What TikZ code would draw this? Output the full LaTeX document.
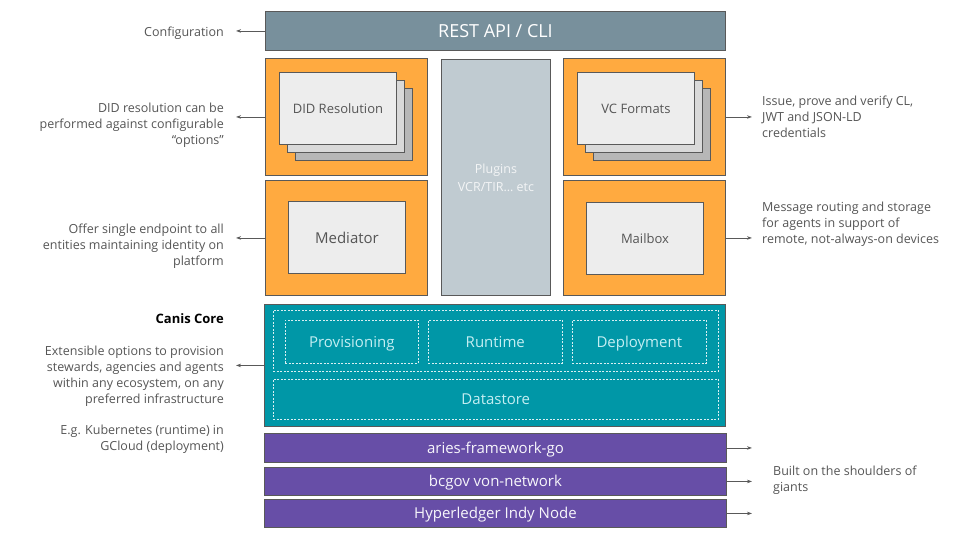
\documentclass[tikz,border=0pt]{standalone}
\usepackage{fontspec}
\setmainfont{Open Sans}
\usetikzlibrary{arrows.meta, positioning, calc}
\definecolor{restgrey}{HTML}{78909C}
\definecolor{pluginblue}{HTML}{C0CBD1}
\definecolor{boxorange}{HTML}{FFAA40}
\definecolor{coreteal}{HTML}{0097A7}
\definecolor{tealtext}{HTML}{C4EEF2}
\definecolor{basepurple}{HTML}{674EA7}
\definecolor{edgegrey}{HTML}{595959}
\definecolor{textgrey}{HTML}{555555}
\definecolor{cardA}{HTML}{EDEDED}
\definecolor{cardB}{HTML}{D9D9D9}
\definecolor{cardC}{HTML}{B7B7B7}

\begin{document}
\begin{tikzpicture}[
    x=1pt, y=-1pt,
    layer/.style={rectangle, draw=edgegrey, line width=0.9pt, inner sep=0pt, anchor=north west},
    card/.style={layer, minimum width=117pt, minimum height=72pt, text=textgrey, font=\fontsize{13}{16}\selectfont},
    part/.style={rectangle, draw=white!85!coreteal, dashed, dash pattern=on 2pt off 1.5pt, line width=0.6pt,
        inner sep=0pt, anchor=north west, text=tealtext, text height=12.5pt, text depth=2pt,
        font=\fontsize{15}{18}\selectfont},
    base/.style={layer, fill=basepurple, minimum width=462pt, text=white!95!basepurple,
        text height=12.5pt, text depth=2pt, font=\fontsize{15}{18}\selectfont},
    note/.style={inner sep=0pt, text=textgrey, font=\fontsize{12.5}{16}\selectfont},
    arrow/.style={-{Stealth[length=5pt, width=3.5pt]}, draw=edgegrey, line width=0.8pt}
]
\useasboundingbox (0,0) rectangle (960,540);

% === Top layer ===
\node[layer, fill=restgrey, minimum width=460pt, minimum height=39pt, text=white,
      font=\fontsize{18}{22}\selectfont] (rest) at (265,11) {REST API / CLI};

% DID resolution
\node[layer, fill=boxorange, minimum width=162pt, minimum height=117pt] (didbox) at (265,58) {};
\node[card, fill=cardC] (did3) at (295,88) {};
\node[card, fill=cardB] (did2) at (287,80) {};
\node[card, fill=cardA] (did1) at (279,72) {DID Resolution};

% Plugins
\node[layer, fill=pluginblue, minimum width=109pt, minimum height=236pt, align=center,
      text=white!80!pluginblue, font=\fontsize{12.5}{18}\selectfont] (plugins) at (441,59) {Plugins\\VCR/TIR… etc};

% VC formats
\node[layer, fill=boxorange, minimum width=162pt, minimum height=117pt] (vcbox) at (563,58) {};
\node[card, fill=cardC] (vc3) at (593,88) {};
\node[card, fill=cardB] (vc2) at (585,80) {};
\node[card, fill=cardA] (vc1) at (577,72) {VC Formats};

% Mediator and mailbox
\node[layer, fill=boxorange, minimum width=162pt, minimum height=115pt] (medbox) at (265,180) {};
\node[card, fill=cardA, font=\fontsize{15}{18}\selectfont] (mediator) at (288,201) {Mediator};
\node[layer, fill=boxorange, minimum width=162pt, minimum height=115pt] (mailbox) at (563,180) {};
\node[card, fill=cardA] (mail) at (586,202) {Mailbox};

% === Canis Core ===
\node[layer, fill=coreteal, minimum width=461pt, minimum height=122pt] (core) at (264,304) {};
\node[part, minimum width=445pt, minimum height=61pt] (services) at (273,310) {};
\node[part, minimum width=133pt, minimum height=43pt] (prov) at (285,320) {Provisioning};
\node[part, minimum width=134pt, minimum height=43pt] (runtime) at (428,320) {Runtime};
\node[part, minimum width=134pt, minimum height=43pt] (deploy) at (572,320) {Deployment};
\node[part, minimum width=445pt, minimum height=40pt] (datastore) at (273,379) {Datastore};

% === Foundations ===
\node[base, minimum height=29pt] (aries) at (264,433) {aries-framework-go};
\node[base, minimum height=28pt] (vonnet) at (264,467) {bcgov von-network};
\node[base, minimum height=28pt] (indy) at (264,499) {Hyperledger Indy Node};

% === Notes on the left ===
\node[note, anchor=east] (confnote) at (224,33) {Configuration};
\node[note, anchor=east, align=right] (didnote) at (224,125) {DID resolution can be\\performed against configurable\\“options”};
\node[note, anchor=east, align=right] (mednote) at (224,246) {Offer single endpoint to all\\entities maintaining identity on\\platform};
\node[note, anchor=east, text=black, font=\fontsize{13}{16}\selectfont\bfseries] (corehead) at (224,319) {Canis Core};
\node[note, anchor=east, align=right] (corenote) at (224,376) {Extensible options to provision\\stewards, agencies and agents\\within any ecosystem, on any\\preferred infrastructure};
\node[note, anchor=east, align=right] (k8snote) at (224,439) {E.g. Kubernetes (runtime) in\\GCloud (deployment)};

% === Notes on the right ===
\node[note, anchor=west, align=left] (vcnote) at (762,117) {Issue, prove and verify CL,\\JWT and JSON-LD\\credentials};
\node[note, anchor=west, align=left] (mailnote) at (762,224) {Message routing and storage\\for agents in support of\\remote, not-always-on devices};
\node[note, anchor=west, align=left] (giantsnote) at (773,480) {Built on the shoulders of\\giants};

% Connectors
\draw[arrow, shorten >=12pt] (rest.west) -- (rest.west -| confnote.east);
\draw[arrow, shorten >=12pt] (didbox.west) -- (didbox.west -| didnote.east);
\draw[arrow, shorten >=12pt] (medbox.west) -- (medbox.west -| mednote.east);
\draw[arrow, shorten >=12pt] (core.west) -- (core.west -| corenote.east);
\draw[arrow, shorten >=10pt] (vcbox.east) -- (vcbox.east -| vcnote.west);
\draw[arrow, shorten >=10pt] (mailbox.east) -- (mailbox.east -| mailnote.west);
\draw[arrow, shorten >=21pt] (aries.east) -- (aries.east -| giantsnote.west);
\draw[arrow, shorten >=21pt] (vonnet.east) -- (vonnet.east -| giantsnote.west);
\draw[arrow, shorten >=21pt] (indy.east) -- (indy.east -| giantsnote.west);

\end{tikzpicture}
\end{document}
